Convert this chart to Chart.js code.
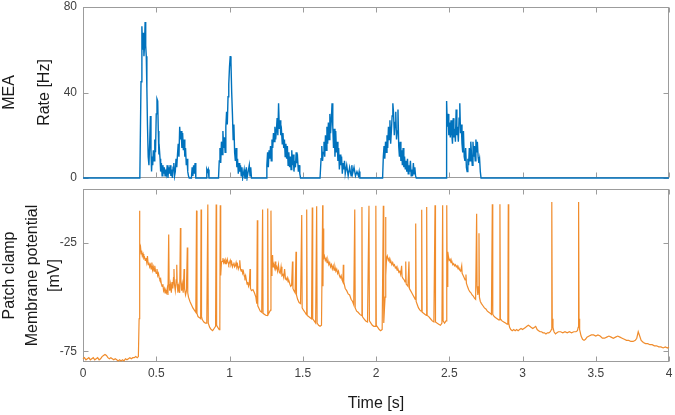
<!DOCTYPE html>
<html>
<head>
<meta charset="utf-8">
<script src="https://cdn.jsdelivr.net/npm/chart.js@4/dist/chart.umd.min.js"></script>
<style>
  body { margin: 0; background: #fff; }
  #wrap { position: relative; width: 675px; height: 415px; }
  #meaChart { position: absolute; left: 0; top: 0; }
  #vmChart  { position: absolute; left: 0; top: 185px; }
</style>
</head>
<body>
<div id="wrap">
  <canvas id="meaChart" width="675" height="185"></canvas>
  <canvas id="vmChart" width="675" height="230"></canvas>
</div>
<script>
// shared time axis
var timeTicks      = [0, 0.5, 1, 1.5, 2, 2.5, 3, 3.5, 4];
var timeTickLabels = ["0", "0.5", "1", "1.5", "2", "2.5", "3", "3.5", "4"];
var meaTicks = [0, 40, 80];
var vmTicks  = [-75, -25];

// MEA population rate (time [s], rate [Hz])
var meaT = [
  0, 0.388, 0.396, 0.402, 0.407, 0.412, 0.416, 0.42, 0.424, 0.428, 0.432, 0.436, 0.44, 0.445, 0.45, 0.455,
  0.46, 0.464, 0.468, 0.472, 0.476, 0.48, 0.485, 0.49, 0.495, 0.5, 0.505, 0.51, 0.514, 0.518, 0.522, 0.526,
  0.53, 0.535, 0.54, 0.545, 0.55, 0.555, 0.56, 0.565, 0.57, 0.575, 0.58, 0.585, 0.59, 0.595, 0.6, 0.605,
  0.61, 0.615, 0.62, 0.625, 0.63, 0.635, 0.64, 0.645, 0.65, 0.655, 0.66, 0.665, 0.67, 0.675, 0.68, 0.685,
  0.69, 0.695, 0.7, 0.705, 0.71, 0.715, 0.72, 0.725, 0.74, 0.745, 0.75, 0.755, 0.76, 0.765, 0.77, 0.84,
  0.845, 0.85, 0.855, 0.86, 0.925, 0.93, 0.935, 0.94, 0.945, 0.95, 0.955, 0.96, 0.965, 0.97, 0.975, 0.98,
  0.985, 0.99, 0.995, 1.0, 1.005, 1.01, 1.015, 1.02, 1.025, 1.03, 1.035, 1.04, 1.045, 1.05, 1.055, 1.06,
  1.065, 1.07, 1.075, 1.08, 1.085, 1.09, 1.1, 1.105, 1.11, 1.115, 1.12, 1.135, 1.14, 1.145, 1.15, 1.25,
  1.255, 1.26, 1.265, 1.27, 1.275, 1.28, 1.285, 1.29, 1.295, 1.3, 1.305, 1.31, 1.315, 1.32, 1.325, 1.33,
  1.335, 1.34, 1.345, 1.35, 1.355, 1.36, 1.365, 1.37, 1.375, 1.38, 1.385, 1.39, 1.395, 1.4, 1.405, 1.41,
  1.415, 1.42, 1.425, 1.43, 1.435, 1.44, 1.445, 1.45, 1.455, 1.46, 1.465, 1.47, 1.475, 1.48, 1.485, 1.618,
  1.625, 1.63, 1.635, 1.64, 1.645, 1.65, 1.655, 1.66, 1.665, 1.67, 1.675, 1.68, 1.685, 1.69, 1.695, 1.7,
  1.705, 1.71, 1.715, 1.72, 1.725, 1.73, 1.735, 1.74, 1.745, 1.75, 1.755, 1.76, 1.765, 1.77, 1.775, 1.78,
  1.785, 1.79, 1.8, 1.81, 1.82, 1.83, 1.835, 1.84, 1.85, 1.86, 1.87, 1.88, 1.885, 1.89, 2.045, 2.05,
  2.055, 2.06, 2.065, 2.07, 2.075, 2.08, 2.085, 2.09, 2.095, 2.1, 2.105, 2.11, 2.115, 2.12, 2.125, 2.13,
  2.135, 2.14, 2.145, 2.15, 2.155, 2.16, 2.165, 2.17, 2.175, 2.18, 2.185, 2.19, 2.195, 2.2, 2.205, 2.21,
  2.215, 2.22, 2.225, 2.23, 2.235, 2.24, 2.245, 2.25, 2.255, 2.26, 2.265, 2.27, 2.275, 2.478, 2.482, 2.487,
  2.492, 2.497, 2.502, 2.507, 2.512, 2.517, 2.522, 2.527, 2.532, 2.537, 2.542, 2.547, 2.552, 2.557, 2.562, 2.567,
  2.572, 2.577, 2.582, 2.587, 2.592, 2.597, 2.602, 2.607, 2.612, 2.617, 2.622, 2.627, 2.632, 2.637, 2.642, 2.647,
  2.652, 2.657, 2.662, 2.667, 2.672, 2.677, 2.682, 2.687, 2.692, 2.697, 2.702, 2.707, 2.712, 2.717, 4
];
var meaHz = [
  0, 0, 45, 71, 60, 68, 57, 62, 73, 62, 57, 42, 25, 10, 6, 16,
  29, 13, 3, 10, 6, 13, 8, 18, 12, 30, 37, 36, 22, 11, 13, 9,
  3, 7, 1, 6, 2, 5, 1, 4, 2, 6, 0, 5, 2, 6, 1, 4,
  0, 5, 7, 1, 3, 9, 5, 11, 16, 10, 24, 18, 22, 14, 21, 13,
  18, 10, 14, 6, 9, 3, 1, 0, 0, 5, 1, 6, 2, 7, 0, 0,
  4, 3, 4, 0, 0, 8, 14, 7, 17, 11, 22, 14, 19, 12, 24, 31,
  25, 38, 44, 52, 57, 54, 40, 30, 18, 25, 12, 8, 14, 5, 9, 2,
  7, 3, 6, 1, 5, 0, 4, 0, 0, 5, 0, 6, 1, 5, 0, 0,
  6, 12, 5, 13, 9, 15, 8, 18, 14, 21, 17, 24, 18, 22, 28, 20,
  35, 23, 27, 20, 22, 16, 21, 14, 18, 10, 16, 9, 15, 6, 12, 5,
  10, 4, 13, 6, 11, 3, 8, 5, 12, 7, 9, 3, 6, 2, 0, 0,
  9, 15, 8, 12, 17, 10, 20, 13, 24, 16, 26, 18, 30, 21, 27, 35,
  24, 14, 23, 10, 22, 12, 17, 8, 14, 4, 11, 6, 10, 2, 7, 4,
  8, 2, 6, 1, 5, 1, 6, 2, 5, 1, 3, 1, 3, 0, 0, 10,
  15, 9, 17, 12, 20, 14, 24, 18, 27, 16, 22, 29, 35, 30, 20, 26,
  31, 18, 22, 32, 15, 10, 17, 8, 13, 6, 14, 5, 10, 4, 8, 3,
  9, 2, 6, 3, 8, 1, 4, 1, 7, 2, 5, 1, 0, 0, 36, 24,
  30, 20, 26, 19, 27, 21, 16, 28, 19, 23, 17, 32, 20, 24, 17, 28,
  35, 21, 25, 16, 12, 22, 10, 8, 14, 5, 3, 9, 6, 14, 8, 17,
  11, 6, 17, 10, 15, 8, 18, 12, 17, 10, 7, 9, 3, 0, 0
];

// patch clamp membrane potential (time [s], potential [mV])
var vmT = [
  0, 0.01, 0.02, 0.03, 0.04, 0.05, 0.06, 0.07, 0.08, 0.09, 0.1, 0.11, 0.12, 0.13, 0.14, 0.15,
  0.16, 0.17, 0.18, 0.19, 0.2, 0.21, 0.22, 0.23, 0.24, 0.25, 0.26, 0.27, 0.28, 0.29, 0.3, 0.31,
  0.32, 0.33, 0.34, 0.35, 0.36, 0.37, 0.378, 0.383, 0.385, 0.387, 0.389, 0.393, 0.397, 0.4, 0.405, 0.41,
  0.415, 0.42, 0.425, 0.43, 0.435, 0.44, 0.445, 0.45, 0.455, 0.46, 0.465, 0.47, 0.475, 0.48, 0.485, 0.49,
  0.495, 0.5, 0.505, 0.51, 0.515, 0.52, 0.525, 0.53, 0.535, 0.54, 0.545, 0.55, 0.555, 0.56, 0.565, 0.57,
  0.575, 0.58, 0.585, 0.588, 0.592, 0.598, 0.603, 0.608, 0.613, 0.618, 0.621, 0.624, 0.63, 0.636, 0.64, 0.643,
  0.648, 0.653, 0.66, 0.665, 0.668, 0.673, 0.678, 0.684, 0.69, 0.693, 0.7, 0.706, 0.712, 0.715, 0.72, 0.73,
  0.74, 0.75, 0.76, 0.77, 0.775, 0.778, 0.785, 0.795, 0.803, 0.806, 0.809, 0.815, 0.825, 0.835, 0.845, 0.852,
  0.855, 0.865, 0.875, 0.885, 0.895, 0.905, 0.909, 0.912, 0.92, 0.93, 0.934, 0.937, 0.94, 0.945, 0.95, 0.955,
  0.96, 0.965, 0.97, 0.975, 0.98, 0.985, 0.99, 0.995, 1.0, 1.005, 1.01, 1.015, 1.02, 1.025, 1.03, 1.035,
  1.04, 1.045, 1.05, 1.055, 1.06, 1.065, 1.07, 1.075, 1.08, 1.085, 1.09, 1.095, 1.1, 1.105, 1.11, 1.115,
  1.12, 1.125, 1.13, 1.135, 1.14, 1.143, 1.15, 1.16, 1.17, 1.18, 1.186, 1.19, 1.193, 1.2, 1.21, 1.22,
  1.226, 1.229, 1.24, 1.25, 1.258, 1.261, 1.264, 1.272, 1.28, 1.283, 1.286, 1.29, 1.294, 1.297, 1.302, 1.308,
  1.312, 1.316, 1.322, 1.328, 1.334, 1.34, 1.346, 1.352, 1.358, 1.364, 1.37, 1.376, 1.382, 1.388, 1.394, 1.4,
  1.406, 1.412, 1.418, 1.424, 1.43, 1.433, 1.44, 1.448, 1.454, 1.457, 1.465, 1.475, 1.485, 1.493, 1.496, 1.505,
  1.515, 1.524, 1.527, 1.53, 1.54, 1.55, 1.56, 1.565, 1.568, 1.578, 1.588, 1.595, 1.598, 1.608, 1.618, 1.628,
  1.636, 1.638, 1.64, 1.643, 1.648, 1.654, 1.66, 1.666, 1.672, 1.678, 1.684, 1.69, 1.696, 1.702, 1.708, 1.714,
  1.72, 1.726, 1.732, 1.738, 1.744, 1.75, 1.756, 1.762, 1.768, 1.774, 1.777, 1.78, 1.79, 1.8, 1.81, 1.82,
  1.83, 1.84, 1.848, 1.855, 1.858, 1.868, 1.878, 1.89, 1.9, 1.904, 1.907, 1.917, 1.93, 1.942, 1.952, 1.955,
  1.965, 1.975, 1.985, 1.995, 1.999, 2.002, 2.012, 2.022, 2.032, 2.042, 2.05, 2.053, 2.058, 2.062, 2.065, 2.068,
  2.072, 2.077, 2.084, 2.09, 2.096, 2.102, 2.108, 2.114, 2.12, 2.126, 2.132, 2.138, 2.144, 2.15, 2.156, 2.162,
  2.168, 2.175, 2.178, 2.185, 2.192, 2.198, 2.203, 2.206, 2.212, 2.218, 2.225, 2.228, 2.236, 2.244, 2.252, 2.26,
  2.268, 2.271, 2.274, 2.282, 2.29, 2.3, 2.308, 2.312, 2.315, 2.325, 2.335, 2.343, 2.346, 2.349, 2.36, 2.372,
  2.384, 2.395, 2.403, 2.406, 2.416, 2.428, 2.44, 2.45, 2.455, 2.458, 2.468, 2.478, 2.483, 2.486, 2.49, 2.494,
  2.5, 2.506, 2.512, 2.518, 2.524, 2.53, 2.536, 2.542, 2.548, 2.554, 2.56, 2.566, 2.572, 2.578, 2.585, 2.588,
  2.595, 2.602, 2.608, 2.614, 2.617, 2.624, 2.632, 2.64, 2.648, 2.656, 2.664, 2.672, 2.68, 2.687, 2.69, 2.695,
  2.7, 2.703, 2.706, 2.712, 2.72, 2.73, 2.74, 2.75, 2.76, 2.77, 2.78, 2.788, 2.794, 2.797, 2.807, 2.817,
  2.827, 2.837, 2.843, 2.846, 2.849, 2.86, 2.872, 2.884, 2.895, 2.9, 2.903, 2.906, 2.912, 2.92, 2.93, 2.94,
  2.95, 2.96, 2.97, 2.98, 2.99, 3.0, 3.01, 3.02, 3.03, 3.04, 3.05, 3.06, 3.07, 3.08, 3.09, 3.1,
  3.11, 3.12, 3.13, 3.14, 3.15, 3.16, 3.17, 3.18, 3.19, 3.197, 3.2, 3.203, 3.208, 3.215, 3.225, 3.235,
  3.245, 3.26, 3.275, 3.29, 3.305, 3.32, 3.335, 3.35, 3.365, 3.375, 3.38, 3.383, 3.386, 3.39, 3.4, 3.41,
  3.42, 3.43, 3.44, 3.455, 3.47, 3.485, 3.5, 3.515, 3.53, 3.545, 3.56, 3.575, 3.59, 3.605, 3.62, 3.635,
  3.65, 3.665, 3.68, 3.695, 3.71, 3.725, 3.74, 3.755, 3.77, 3.78, 3.79, 3.8, 3.81, 3.825, 3.84, 3.855,
  3.87, 3.885, 3.9, 3.915, 3.93, 3.945, 3.96, 3.975, 3.99, 4.0
];
var vmMV = [
  -78.5, -78, -79, -78.5, -78, -79, -78.5, -78, -79, -78.5, -78, -79, -78.5, -77.5, -77, -76.5,
  -77, -78, -78.5, -78, -78.5, -79, -78.5, -79, -79.5, -79, -79.5, -79, -79.5, -78.5, -79, -78.5,
  -78, -78.5, -78, -78, -77.5, -78, -77.5, -60, -10, -22, -29, -27, -30, -28.5, -31, -30,
  -32, -31.5, -33, -32, -34, -31, -35, -34, -36, -35, -37, -34, -37.5, -36, -38, -35.5,
  -38, -39, -37, -40, -39, -41, -42, -41.5, -44, -45, -44, -47, -46, -48, -47, -48,
  -46, -49, -21, -44, -47, -44, -48, -43, -46, -41, -37, -44, -47, -42, -35, -44,
  -48, -45, -48, -18, -42, -47, -44, -48, -37, -46, -49, -47, -27, -48, -50, -52,
  -53.5, -55, -56, -57, -10, -57.5, -59, -59.5, -60, -9.5, -59, -60.5, -61.5, -62, -62, -7.2,
  -62, -64, -65, -65.5, -64.5, -63.5, -7.2, -63, -64, -65, -63, -7.5, -40, -34, -33.5, -32,
  -34, -33, -34.5, -33, -34, -32.5, -34, -35, -34, -33, -35, -34, -36, -35, -34, -36,
  -35.5, -34, -36, -35, -37, -36, -33, -37, -38, -37, -39, -38, -40, -41, -40, -42,
  -44, -43, -45, -44, -37, -46, -47, -46.5, -48, -50, -53, -14.5, -54, -55, -56.5, -57,
  -9.5, -57.5, -58, -58.5, -58.5, -9, -58, -57, -56, -10, -40, -35, -30.5, -36, -35, -36.5,
  -33.5, -37, -36, -38, -35, -38.5, -39, -36, -40, -39.5, -41, -37, -41.5, -42, -41, -43,
  -42.5, -44, -45, -44.5, -33.5, -46, -47, -48, -29, -49, -51, -52.5, -53, -12, -55, -56,
  -57, -58, -9.5, -58.5, -59, -59.5, -60, -8.5, -60, -61, -62, -8, -62, -63, -63.5, -63,
  -7.5, -45, -18.3, -32, -31, -33, -32, -34, -33, -35, -34, -36, -35, -37, -35.5, -37.5,
  -36, -38, -37, -39, -38, -40, -41, -40, -42, -43, -35, -43, -46, -47, -48.5, -49,
  -51, -52, -53.5, -9.5, -55, -56.5, -57, -58, -58.5, -8.3, -59, -60, -61, -61.5, -7.7, -61,
  -62, -63, -63.5, -63.5, -7.7, -63, -64, -65, -65.5, -65, -7.7, -62, -55, -50, -13, -40,
  -32, -31, -33, -32, -34, -33.5, -35, -34, -35.5, -35, -36.5, -36, -37.5, -37, -38.5, -38,
  -39.5, -35.5, -40.5, -41.5, -42, -43, -33.5, -44, -44.5, -45, -33.5, -46, -47, -48, -49, -50,
  -51, -16, -52, -53.5, -55, -56, -56.5, -9.6, -57, -57.5, -58, -58.5, -8.3, -58.5, -59, -60,
  -61, -61.5, -7.5, -61.5, -62, -62.5, -63, -62, -7.5, -61, -62, -61, -7.5, -45, -29, -31,
  -33, -32.5, -34, -33.5, -35, -34.5, -35.5, -35, -36, -35.5, -37, -36.5, -37.5, -38, -35.5, -39,
  -40, -41, -42, -39.5, -43.5, -45, -46.5, -47.5, -48, -49, -49.5, -50.5, -51, -11.4, -45, -49,
  -47, -20.5, -50, -52, -53, -54, -55, -55.5, -56.5, -57, -57.5, -58, -7, -58, -59, -59.5,
  -60, -60.5, -60.5, -7, -60, -61, -61.5, -62, -62.5, -62, -7, -62, -64, -65, -65.5, -65,
  -65.5, -65, -65.5, -65, -64.5, -65, -64.5, -64, -63.5, -63, -63.5, -64, -64.5, -64, -63.5, -65,
  -65.5, -66, -66, -66.5, -66.5, -67, -66.5, -66.5, -66, -65, -6, -60, -64, -66, -67, -66.5,
  -66, -66, -66.5, -66, -66.5, -66, -66.5, -66, -66, -65.5, -64, -6, -60, -65, -68, -69.5,
  -70, -69.5, -68.5, -68, -67.5, -67.5, -68, -67.5, -68, -69, -69, -68.5, -68, -68.5, -69, -68.5,
  -68, -68.5, -69, -69.5, -70, -70, -70.5, -70.5, -70, -69, -66, -68, -70, -71, -71.5, -71.5,
  -72, -72, -72.5, -72.5, -73, -73, -73.5, -73, -73.5, -73
];

var FONT = "'Liberation Sans', Arial, Helvetica, sans-serif";
var BOX_COLOR = "#9c9c9c";

// MATLAB style box with inward ticks on all four sides
var boxTicks = {
    id: "boxTicks",
    beforeDatasetsDraw: function(chart){
        var ctx = chart.ctx;
        var a = chart.chartArea;
        var sx = chart.scales.x, sy = chart.scales.y;
        var L = Math.round(a.left) + 0.5, R = Math.round(a.right) - 0.5;
        var T = Math.round(a.top) + 0.5,  B = Math.round(a.bottom) - 0.5;
        var len = 5;
        ctx.save();
        ctx.strokeStyle = BOX_COLOR;
        ctx.lineWidth = 1;
        ctx.strokeRect(L, T, R - L, B - T);
        ctx.beginPath();
        sx.ticks.forEach(function(t){
            var px = Math.round(sx.getPixelForValue(t.value)) + 0.5;
            ctx.moveTo(px, T); ctx.lineTo(px, T + len);
            ctx.moveTo(px, B); ctx.lineTo(px, B - len);
        });
        sy.ticks.forEach(function(t){
            var py = Math.round(sy.getPixelForValue(t.value)) + 0.5;
            ctx.moveTo(L, py); ctx.lineTo(L + len, py);
            ctx.moveTo(R, py); ctx.lineTo(R - len, py);
        });
        ctx.stroke();
        ctx.restore();
    }
};

function toPoints(xs, ys){
    return xs.map(function(x, i){ return {x: x, y: ys[i]}; });
}

function setTicks(list){
    return function(scale){
        scale.ticks = list.map(function(v){ return {value: v}; });
    };
}

// fixed axis sizes, no extra label padding (layout padding does the job)
function fixWidth(w){
    return function(s){
        s.width = w;
        s.paddingTop = 0; s.paddingBottom = 0;
    };
}
function fixHeight(h){
    return function(s){
        s.height = h;
        s.paddingLeft = 0; s.paddingRight = 0;
    };
}

// top panel: MEA rate
var meaChart = new Chart(document.getElementById("meaChart"), {
    type: "line",
    data: {
        datasets: [{
            data: toPoints(meaT, meaHz),
            borderColor: "#0072bd",
            borderWidth: 1.4,
            pointRadius: 0,
            tension: 0,
            clip: 3
        }]
    },
    options: {
        responsive: false,
        animation: false,
        devicePixelRatio: 1,
        layout: { padding: { top: 7, right: 6, bottom: 0, left: 0 } },
        plugins: { legend: { display: false }, tooltip: { enabled: false } },
        scales: {
            x: {
                type: "linear", min: 0, max: 4,
                afterBuildTicks: setTicks(timeTicks),
                ticks: { display: false },
                grid: { display: false },
                border: { display: false },
                afterFit: fixHeight(7)
            },
            y: {
                min: 0, max: 80,
                afterBuildTicks: setTicks(meaTicks),
                ticks: { color: "#404040", padding: 6, font: { family: FONT, size: 12 } },
                grid: { display: false, drawTicks: false },
                border: { display: false },
                title: {
                    display: true,
                    text: ["MEA", "Rate [Hz]"],
                    color: "#1a1a1a",
                    font: { family: FONT, size: 16, lineHeight: "35px" },
                    padding: { top: -7.5, bottom: 0 }
                },
                afterFit: fixWidth(83)
            }
        }
    },
    plugins: [boxTicks]
});

// bottom panel: patch clamp recording
var vmChart = new Chart(document.getElementById("vmChart"), {
    type: "line",
    data: {
        datasets: [{
            data: toPoints(vmT, vmMV),
            borderColor: "#f08c2c",
            borderWidth: 1.2,
            pointRadius: 0,
            tension: 0,
            clip: 3
        }]
    },
    options: {
        responsive: false,
        animation: false,
        devicePixelRatio: 1,
        layout: { padding: { top: 4, right: 6, bottom: 0, left: 0 } },
        plugins: { legend: { display: false }, tooltip: { enabled: false } },
        scales: {
            x: {
                type: "linear", min: 0, max: 4,
                afterBuildTicks: setTicks(timeTicks),
                ticks: {
                    color: "#404040", padding: 4, maxRotation: 0,
                    font: { family: FONT, size: 12 },
                    callback: function(v, i){ return timeTickLabels[i]; }
                },
                grid: { display: false, drawTicks: false },
                border: { display: false },
                title: {
                    display: true,
                    text: "Time [s]",
                    color: "#1a1a1a",
                    font: { family: FONT, size: 16 },
                    padding: { top: 0, bottom: 2 }
                },
                afterFit: fixHeight(53)
            },
            y: {
                min: -80, max: 0,
                afterBuildTicks: setTicks(vmTicks),
                ticks: { color: "#404040", padding: 6, font: { family: FONT, size: 12 } },
                grid: { display: false, drawTicks: false },
                border: { display: false },
                title: {
                    display: true,
                    text: ["Patch clamp", "Membrane potential", "[mV]"],
                    color: "#1a1a1a",
                    font: { family: FONT, size: 16, lineHeight: "22.5px" },
                    padding: { top: -1.25, bottom: 0 }
                },
                afterFit: fixWidth(83)
            }
        }
    },
    plugins: [boxTicks]
});
</script>
</body>
</html>
